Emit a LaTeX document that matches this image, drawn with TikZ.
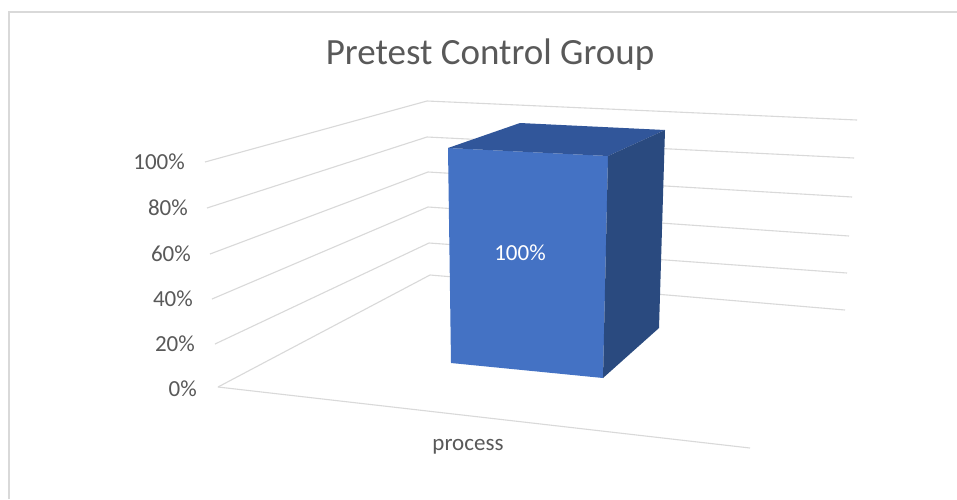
\documentclass[tikz,border=0pt]{standalone}
\usepackage{fontspec}
\setmainfont{Carlito}
\definecolor{txt}{HTML}{595959}
\definecolor{grid}{HTML}{D9D9D9}
\definecolor{barfront}{HTML}{4472C4}
\definecolor{bartop}{HTML}{31569A}
\definecolor{barside}{HTML}{2A4A7F}
\tikzset{
  gridline/.style={draw=grid, line width=1.1pt},
  framebox/.style={draw=grid, line width=1.8pt},
  axislabel/.style={text=txt, font=\fontsize{23}{27}\selectfont, inner sep=0pt, anchor=east},
  catlabel/.style={text=txt, font=\fontsize{23}{27}\selectfont, inner sep=0pt},
  titlelabel/.style={text=txt, font=\fontsize{37}{44}\selectfont, inner sep=0pt},
  datalabel/.style={text=white, font=\fontsize{23}{27}\selectfont, inner sep=0pt}
}
\begin{document}
\begin{tikzpicture}[x=1pt,y=-1pt]
\useasboundingbox (0,0) rectangle (957,499);
\fill[white] (0,0) rectangle (957,499);
% frame
\draw[framebox] (9,499) -- (9,12) -- (957,12);
% title
\node[titlelabel] (title) at (490,55) {Pretest Control Group};
% gridlines: front-left, back corner, right
\coordinate (F0) at (218,387); \coordinate (B0) at (430,275); \coordinate (R0) at (845,310);
\coordinate (F1) at (215,344); \coordinate (B1) at (429,243); \coordinate (R1) at (847,273);
\coordinate (F2) at (212,299); \coordinate (B2) at (428,207); \coordinate (R2) at (849,236);
\coordinate (F3) at (210,254); \coordinate (B3) at (428,172); \coordinate (R3) at (852,197);
\coordinate (F4) at (207,208); \coordinate (B4) at (427,137); \coordinate (R4) at (854,158);
\coordinate (F5) at (205,162); \coordinate (B5) at (427,101); \coordinate (R5) at (857,120);
\foreach \i in {0,...,5}{
  \draw[gridline] (F\i) -- (B\i) -- (R\i);
}
\coordinate (FR) at (750,448);
\draw[gridline] (F0) -- (FR);
% axis labels
\node[axislabel] (l0) at (197,389) {0\%};
\node[axislabel] (l1) at (195,344) {20\%};
\node[axislabel] (l2) at (193,299) {40\%};
\node[axislabel] (l3) at (191,254) {60\%};
\node[axislabel] (l4) at (188,208) {80\%};
\node[axislabel] (l5) at (185,162) {100\%};
% bar
\coordinate (a) at (448,148); \coordinate (b) at (608,156);
\coordinate (c) at (603,378); \coordinate (d) at (451,363);
\coordinate (e) at (520,123); \coordinate (f) at (665,130);
\coordinate (g) at (659,328);
\fill[barfront] (a) -- (b) -- (c) -- (d) -- cycle;
\fill[bartop] (a) -- (e) -- (f) -- (b) -- cycle;
\fill[barside] (b) -- (f) -- (g) -- (c) -- cycle;
\node[datalabel] (val) at (520,253) {100\%};
% category
\node[catlabel] (cat) at (468,447) {process};
\end{tikzpicture}
\end{document}
